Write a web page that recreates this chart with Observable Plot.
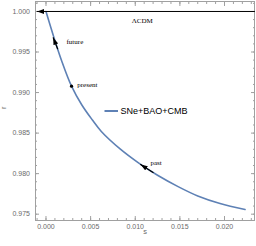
<!DOCTYPE html>
<html><head><meta charset="utf-8">
<script src="https://cdn.jsdelivr.net/npm/d3@7"></script>
<script src="https://cdn.jsdelivr.net/npm/@observablehq/plot@0.6"></script>
<style>body{margin:0;background:#fff}svg{display:block}</style>
</head><body><div id="chart"></div>
<script>
// trajectory s–r (SNe+BAO+CMB)
const sValues = [0, 0.0009, 0.00174, 0.00286, 0.0040, 0.00518, 0.0062, 0.0083, 0.0104, 0.0125, 0.0148, 0.0170, 0.0195, 0.0223];
const rValues = [1.0, 0.99676, 0.99396, 0.99079, 0.98850, 0.98664, 0.98520, 0.98305, 0.98130, 0.97980, 0.97840, 0.97725, 0.97632, 0.97558];
// present point
const presentS = [0.00286];
const presentR = [0.99079];
// arrows (tail -> head)
const arrowNames = ["LCDM", "future", "past"];
const arrowTailS = [0.02336, 0.0013, 0.0120];
const arrowTailR = [1.0, 0.9954, 0.98015];
const arrowHeadS = [-0.00099, 0.00081, 0.0106];
const arrowHeadR = [1.0, 0.99676, 0.98112];
// annotations
const noteText = ["ΛCDM", "future", "present", "past"];
const noteS = [0.00961, 0.0023, 0.0035, 0.01171];
const noteR = [0.99889, 0.99621, 0.9910, 0.98129];
// ticks
const xMajor = [0, 0.005, 0.010, 0.015, 0.020];
const yMajor = [0.975, 0.980, 0.985, 0.990, 0.995, 1.000];
const xMinor = d3.range(-1, 24).map(i => i / 1000);
const yMinor = d3.range(975, 1002).map(i => i / 1000);
const xDomain = [-0.001176, 0.02336];
const yDomain = [0.97422, 1.00123];
const seriesName = "SNe+BAO+CMB";

const curve = sValues.map((s, i) => ({s, r: rValues[i]}));
const present = presentS.map((s, i) => ({s, r: presentR[i]}));
const arrows = arrowNames.flatMap((id, i) => [
  {id, s: arrowTailS[i], r: arrowTailR[i]},
  {id, s: arrowHeadS[i], r: arrowHeadR[i]}
]);
const notes = noteText.map((t, i) => ({t, s: noteS[i], r: noteR[i]}));

const blue = "#5E81B5";
const frameColor = "#a0a0a0";
const labelColor = "#6a6a6a";

function arrowHead(color) {
  const m = d3.create("svg:marker")
    .attr("viewBox", "-7 -2.5 7 5")
    .attr("markerUnits", "userSpaceOnUse")
    .attr("markerWidth", 7).attr("markerHeight", 5)
    .attr("refX", 0).attr("refY", 0)
    .attr("orient", "auto")
    .attr("fill", color).attr("stroke", "none");
  m.append("path").attr("d", "M0,0L-7,-2.5L-7,2.5Z");
  return m.node();
}
// legend swatch line, placed relative to the plot frame
function legendSwatch(index, scales, values, dims) {
  const x0 = dims.marginLeft + 69.5, y0 = dims.marginTop + 110;
  return d3.create("svg:line")
    .attr("x1", x0).attr("x2", x0 + 13.5)
    .attr("y1", y0).attr("y2", y0)
    .attr("stroke", blue).attr("stroke-width", 2)
    .node();
}

const chart = Plot.plot({
  width: 256, height: 246,
  marginLeft: 35, marginRight: 2, marginTop: 1, marginBottom: 26,
  style: {fontFamily: "Liberation Sans, Arial, sans-serif", background: "#fff"},
  x: {domain: xDomain, axis: null},
  y: {domain: yDomain, axis: null},
  marks: [
    // inward ticks on all four sides
    Plot.axisX(xMinor, {anchor: "bottom", tickSize: -2, fill: "none", stroke: frameColor}),
    Plot.axisX(xMajor, {anchor: "bottom", tickSize: -4, fill: "none", stroke: frameColor}),
    Plot.axisX(xMinor, {anchor: "top", tickSize: -2, fill: "none", stroke: frameColor}),
    Plot.axisX(xMajor, {anchor: "top", tickSize: -4, fill: "none", stroke: frameColor}),
    Plot.axisY(yMinor, {anchor: "left", tickSize: -2, fill: "none", stroke: frameColor}),
    Plot.axisY(yMajor, {anchor: "left", tickSize: -4, fill: "none", stroke: frameColor}),
    Plot.axisY(yMinor, {anchor: "right", tickSize: -2, fill: "none", stroke: frameColor}),
    Plot.axisY(yMajor, {anchor: "right", tickSize: -4, fill: "none", stroke: frameColor}),
    // tick labels
    Plot.axisX(xMajor, {anchor: "bottom", tickSize: 0, tickPadding: 4, fill: labelColor, fontSize: 7, tickFormat: d3.format(".3f"), label: null}),
    Plot.axisY(yMajor, {anchor: "left", tickSize: 0, tickPadding: 5.5, fill: labelColor, fontSize: 7, tickFormat: d3.format(".3f"), label: null}),
    Plot.frame({stroke: frameColor, strokeWidth: 1}),
    // axis labels
    Plot.text(["s"], {frameAnchor: "bottom", dy: 11.5, fill: labelColor, fontSize: 7.5, lineAnchor: "middle"}),
    Plot.text(["r"], {frameAnchor: "left", dx: -32, dy: -2, rotate: -90, fill: labelColor, fontSize: 7.5, lineAnchor: "middle"}),
    // trajectory
    Plot.line(curve, {x: "s", y: "r", stroke: blue, strokeWidth: 1.6, curve: "catmull-rom"}),
    // arrows
    Plot.line(arrows.filter(d => d.id === "LCDM"), {x: "s", y: "r", z: "id", stroke: "black", strokeWidth: 1, markerEnd: arrowHead}),
    Plot.line(arrows.filter(d => d.id !== "LCDM"), {x: "s", y: "r", z: "id", stroke: "black", strokeWidth: 1.2, markerEnd: arrowHead}),
    Plot.dot(present, {x: "s", y: "r", r: 1.6, fill: "black"}),
    // annotations
    Plot.text(notes, {x: "s", y: "r", text: "t", textAnchor: "start", fontFamily: "Liberation Serif, Times New Roman, serif", fontSize: 7, fill: "black"}),
    // legend
    legendSwatch,
    Plot.text([seriesName], {frameAnchor: "top-left", dx: 85, dy: 110, textAnchor: "start", lineAnchor: "middle", fontSize: 9, fill: "black"})
  ]
});
document.getElementById("chart").append(chart);
</script>
</body></html>
